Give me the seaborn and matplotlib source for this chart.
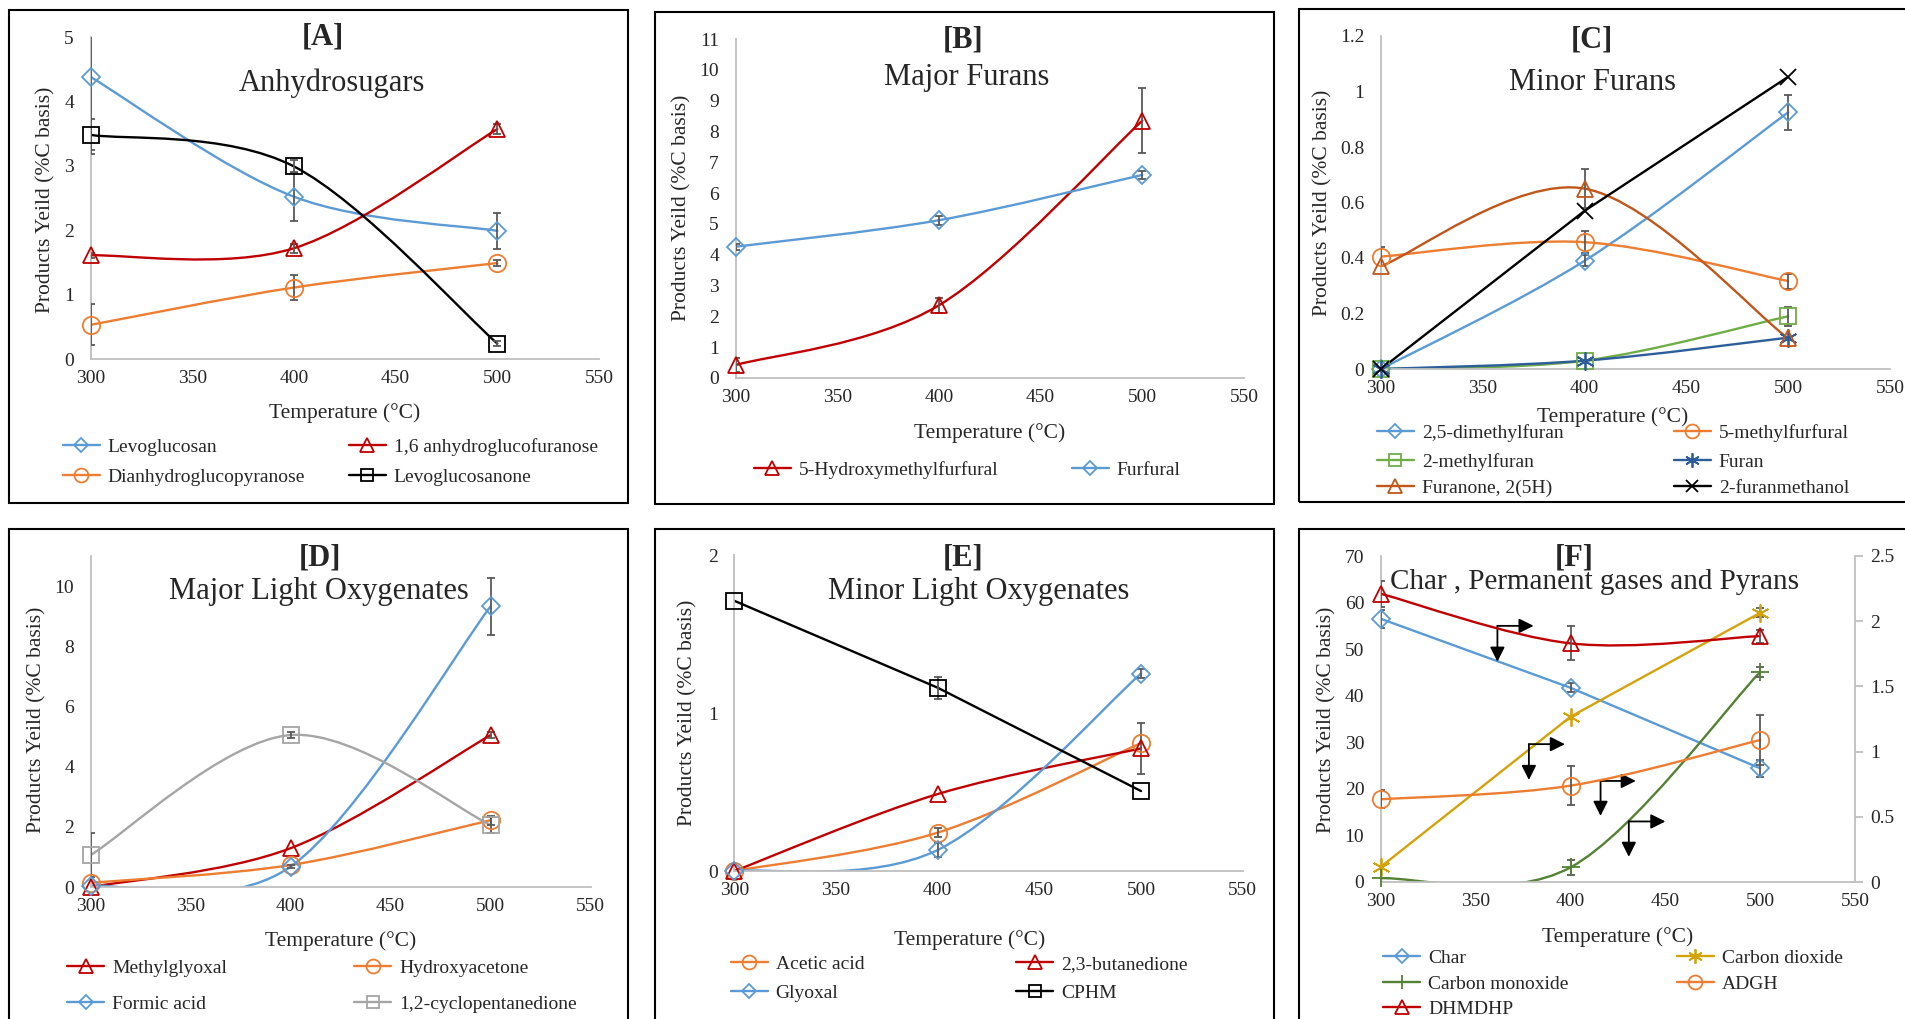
import numpy as np
import pandas as pd
import matplotlib
matplotlib.use("Agg")
import matplotlib.pyplot as plt
import seaborn as sns
from matplotlib.path import Path
from matplotlib.patches import PathPatch, Rectangle
from matplotlib.lines import Line2D
from matplotlib.ticker import FuncFormatter, MultipleLocator

# ---------------- DATA ----------------
temps = [300, 400, 500]
x_ticks = [300, 350, 400, 450, 500, 550]

# [A] Anhydrosugars
levoglucosan = [4.38, 2.52, 1.99]
levoglucosan_err = [1.20, 0.38, 0.28]
anhydroglucofuranose = [1.61, 1.72, 3.57]
anhydroglucofuranose_err = [0.04, 0.07, 0.08]
dianhydroglucopyranose = [0.53, 1.11, 1.49]
dianhydroglucopyranose_err = [0.32, 0.20, 0.04]
levoglucosanone = [3.48, 2.99, 0.24]
levoglucosanone_err = [0.24, 0.10, 0.04]

# [B] Major Furans
hmf = [0.42, 2.36, 8.35]
hmf_err = [0.22, 0.25, 1.05]
furfural = [4.26, 5.12, 6.59]
furfural_err = [0.10, 0.14, 0.12]

# [C] Minor Furans
dimethylfuran = [0.0, 0.39, 0.925]
dimethylfuran_err = [0.0, 0.02, 0.063]
methylfurfural = [0.405, 0.457, 0.317]
methylfurfural_err = [0.035, 0.04, 0.027]
methylfuran = [0.0, 0.03, 0.19]
methylfuran_err = [0.0, 0.0, 0.034]
furan = [0.0, 0.03, 0.113]
furan_err = [0.0, 0.0, 0.0]
furanone = [0.37, 0.65, 0.11]
furanone_err = [0.0, 0.07, 0.0]
furanmethanol = [0.0, 0.57, 1.053]
furanmethanol_err = [0.0, 0.0, 0.0]

# [D] Major Light Oxygenates
methylglyoxal = [0.0, 1.29, 5.05]
methylglyoxal_err = [0.0, 0.0, 0.10]
hydroxyacetone = [0.14, 0.73, 2.22]
hydroxyacetone_err = [0.0, 0.0, 0.15]
formic_acid = [0.04, 0.68, 9.33]
formic_acid_err = [0.0, 0.05, 0.95]
cyclopentanedione = [1.06, 5.05, 2.06]
cyclopentanedione_err = [0.72, 0.10, 0.25]

# [E] Minor Light Oxygenates
acetic_acid = [0.0, 0.243, 0.81]
acetic_acid_err = [0.0, 0.03, 0.0]
butanedione = [0.0, 0.487, 0.776]
butanedione_err = [0.0, 0.0, 0.16]
glyoxal = [0.0, 0.133, 1.25]
glyoxal_err = [0.0, 0.045, 0.03]
cphm = [1.71, 1.16, 0.506]
cphm_err = [0.0, 0.07, 0.0]

# [F] Char, Permanent gases and Pyrans  (Char, CO2, CO: left axis; ADGH, DHMDHP: right axis)
char = [56.5, 41.7, 24.4]
char_err = [2.0, 1.0, 1.8]
carbon_dioxide = [3.3, 35.5, 57.8]
carbon_dioxide_err = [0.0, 0.0, 1.0]
carbon_monoxide = [0.8, 3.15, 45.1]
carbon_monoxide_err = [0.0, 1.6, 1.0]
adgh = [0.634, 0.739, 1.089]
adgh_err = [0.07, 0.15, 0.19]
dhmdhp = [2.21, 1.83, 1.886]
dhmdhp_err = [0.10, 0.13, 0.05]

# ---------------- STYLE ----------------
sns.set_theme(style="white")
plt.rcParams["font.family"] = ["Liberation Serif", "DejaVu Serif"]

BLUE = "#5B9BD5"
RED = "#C00000"
ORANGE = "#ED7D31"
BLACK = "#000000"
GREEN = "#70AD47"
DKBLUE = "#2E5E9A"
BROWN = "#C0561A"
GRAY = "#A5A5A5"
GOLD = "#D4A20A"
DKGREEN = "#548235"
ERRC = "#595959"
SPINE = "#BFBFBF"
ASTER = (6, 2, 0)

LW = 1.7
MEW = 1.3
MS = {"D": 9.0, "o": 12.5, "s": 11.5, "^": 12, "x": 11, ASTER: 13, "+": 13}

TICK_FS = 14
LEG_FS = 14
XLAB_FS = 15.5
YLAB_FS = 15.5
TAG_FS = 22
SUB_FS = 22

W, H = 1906, 1019
fig = plt.figure(figsize=(W / 100, H / 100), dpi=100)
fig.patch.set_facecolor("white")


def fx(x):
    return x / W


def fy(y):
    return 1 - y / H


def add_ax(l, t, r, b):
    return fig.add_axes([l / W, 1 - b / H, (r - l) / W, (b - t) / H])


def smooth_path(x, y):
    pts = np.column_stack([x, y]).astype(float)
    n = len(pts)
    verts = [pts[0]]
    codes = [Path.MOVETO]
    for i in range(n - 1):
        p0 = pts[i - 1] if i > 0 else pts[i]
        p1 = pts[i]
        p2 = pts[i + 1]
        p3 = pts[i + 2] if i + 2 < n else pts[i + 1]
        c1 = p1 + (p2 - p0) / 6.0
        c2 = p2 - (p3 - p1) / 6.0
        verts += [c1, c2, p2]
        codes += [Path.CURVE4] * 3
    return Path(verts, codes)


def fmt(v, pos=None):
    return f"{v:g}"


def style_axes(ax, ymax, ystep):
    ax.set_xlim(300, 550)
    ax.set_ylim(0, ymax)
    ax.set_xticks(x_ticks)
    ax.yaxis.set_major_locator(MultipleLocator(ystep))
    ax.yaxis.set_major_formatter(FuncFormatter(fmt))
    ax.xaxis.set_major_formatter(FuncFormatter(fmt))
    ax.set_facecolor("none")
    for s in ["top", "right"]:
        ax.spines[s].set_visible(False)
    for s in ["left", "bottom"]:
        ax.spines[s].set_color(SPINE)
        ax.spines[s].set_linewidth(1.3)
    ax.tick_params(axis="both", length=0, labelsize=TICK_FS, colors="#262626")
    ax.tick_params(axis="y", pad=12)
    ax.tick_params(axis="x", pad=8)
    ax.grid(False)


def draw_series(ax, y, err, color, marker, smooth):
    df = pd.DataFrame({"T": temps, "v": y})
    if smooth:
        ax.add_patch(PathPatch(smooth_path(temps, y), facecolor="none", edgecolor=color,
                               lw=LW, transform=ax.transData, zorder=2, capstyle="round"))
    else:
        sns.lineplot(data=df, x="T", y="v", ax=ax, color=color, lw=LW, estimator=None,
                     sort=False, zorder=2)
    e = np.array(err, dtype=float)
    m = e > 0
    if m.any():
        ax.errorbar(np.array(temps)[m], np.array(y)[m], yerr=e[m], fmt="none", ecolor=ERRC,
                    elinewidth=1.3, capsize=3, capthick=1.3, zorder=4)
    sns.lineplot(data=df, x="T", y="v", ax=ax, estimator=None, sort=False, linestyle="",
                 marker=marker, markersize=MS[marker], markerfacecolor="none",
                 markeredgecolor=color, markeredgewidth=MEW, color=color, zorder=5,
                 clip_on=False)
    ax.set_xlabel("")
    ax.set_ylabel("")


def handle(color, marker):
    return Line2D([], [], color=color, lw=LW, marker=marker, ms=MS[marker] * 0.8,
                  mfc="none", mec=color, mew=MEW)


def legend_entries(entries):
    for (x, y, lab, color, marker) in entries:
        fig.legend(handles=[handle(color, marker)], labels=[lab], loc="center left",
                   bbox_to_anchor=(fx(x), fy(y)), frameon=False, borderpad=0,
                   borderaxespad=0, handlelength=1.9, handletextpad=0.4,
                   fontsize=LEG_FS)


def panel_text(bx, by, sx, sy, tag, sub, sub_fs=SUB_FS):
    fig.text(fx(bx), fy(by), tag, ha="center", va="center", fontsize=TAG_FS, fontweight="bold")
    fig.text(fx(sx), fy(sy), sub, ha="center", va="center", fontsize=sub_fs)


def axis_labels(xlx, xly, ylx, yly):
    fig.text(fx(xlx), fy(xly), "Temperature (°C)", ha="center", va="center", fontsize=XLAB_FS)
    fig.text(fx(ylx), fy(yly), "Products Yeild (%C basis)", ha="center", va="center",
             rotation=90, fontsize=YLAB_FS)


def box(x1, y1, x2, y2):
    fig.add_artist(Rectangle((fx(x1), fy(y2)), (x2 - x1) / W, (y2 - y1) / H,
                             transform=fig.transFigure, fill=False, ec="black", lw=1.5))


def panel_legend(xs, ys, series):
    pos = [(xs[i % 2], ys[i // 2]) for i in range(len(series))]
    legend_entries([(p[0], p[1], s[0], s[3], s[4]) for p, s in zip(pos, series)])


# ---------------- PANEL A ----------------
box(9, 10, 628, 503)
axA = add_ax(90.6, 37, 599, 359)
style_axes(axA, 5, 1)
A_series = [
    ("Levoglucosan", levoglucosan, levoglucosan_err, BLUE, "D", True),
    ("1,6 anhydroglucofuranose", anhydroglucofuranose, anhydroglucofuranose_err, RED, "^", True),
    ("Dianhydroglucopyranose", dianhydroglucopyranose, dianhydroglucopyranose_err, ORANGE, "o", True),
    ("Levoglucosanone", levoglucosanone, levoglucosanone_err, BLACK, "s", True),
]
for lab, y, e, c, mk, sm in A_series:
    draw_series(axA, y, e, c, mk, sm)
panel_text(323, 37, 331.5, 83, "[A]", "Anhydrosugars")
axis_labels(345, 413, 46, 200)
panel_legend((63, 349), (447, 477), A_series)

# ---------------- PANEL B ----------------
box(655, 12, 1274, 504)
axB = add_ax(735.6, 39, 1244, 378)
style_axes(axB, 11, 1)
B_series = [
    ("5-Hydroxymethylfurfural", hmf, hmf_err, RED, "^", True),
    ("Furfural", furfural, furfural_err, BLUE, "D", True),
]
for lab, y, e, c, mk, sm in B_series:
    draw_series(axB, y, e, c, mk, sm)
panel_text(963, 40, 967, 77, "[B]", "Major Furans")
axis_labels(989.5, 433, 682, 208)
panel_legend((754, 1072), (470,), B_series)

# ---------------- PANEL C ----------------
box(1299, 9, 1930, 502)
axC = add_ax(1381, 36, 1890, 369)
style_axes(axC, 1.2, 0.2)
C_series = [
    ("2,5-dimethylfuran", dimethylfuran, dimethylfuran_err, BLUE, "D", True),
    ("5-methylfurfural", methylfurfural, methylfurfural_err, ORANGE, "o", True),
    ("2-methylfuran", methylfuran, methylfuran_err, GREEN, "s", True),
    ("Furan", furan, furan_err, DKBLUE, ASTER, True),
    ("Furanone, 2(5H)", furanone, furanone_err, BROWN, "^", True),
    ("2-furanmethanol", furanmethanol, furanmethanol_err, BLACK, "x", False),
]
for lab, y, e, c, mk, sm in C_series:
    draw_series(axC, y, e, c, mk, sm)
panel_text(1592, 40, 1592.5, 82, "[C]", "Minor Furans")
axis_labels(1613, 417, 1323, 203)
panel_legend((1377, 1674), (433, 462, 488), C_series)

# ---------------- PANEL D ----------------
box(9, 529, 628, 1030)
axD = add_ax(90.6, 556, 590.7, 887)
style_axes(axD, 11, 2)
D_series = [
    ("Methylglyoxal", methylglyoxal, methylglyoxal_err, RED, "^", True),
    ("Hydroxyacetone", hydroxyacetone, hydroxyacetone_err, ORANGE, "o", True),
    ("Formic acid", formic_acid, formic_acid_err, BLUE, "D", True),
    ("1,2-cyclopentanedione", cyclopentanedione, cyclopentanedione_err, GRAY, "s", True),
]
for lab, y, e, c, mk, sm in D_series:
    draw_series(axD, y, e, c, mk, sm)
panel_text(320.4, 558, 319, 591, "[D]", "Major Light Oxygenates")
axis_labels(341, 941, 36.7, 720)
panel_legend((67.4, 354.3), (968, 1004), D_series)

# ---------------- PANEL E ----------------
box(655, 529, 1274, 1030)
axE = add_ax(734.4, 555, 1242.7, 871)
style_axes(axE, 2, 1)
E_series = [
    ("Acetic acid", acetic_acid, acetic_acid_err, ORANGE, "o", True),
    ("2,3-butanedione", butanedione, butanedione_err, RED, "^", True),
    ("Glyoxal", glyoxal, glyoxal_err, BLUE, "D", True),
    ("CPHM", cphm, cphm_err, BLACK, "s", False),
]
for lab, y, e, c, mk, sm in E_series:
    draw_series(axE, y, e, c, mk, sm)
panel_text(963, 558, 978.7, 592, "[E]", "Minor Light Oxygenates")
axis_labels(969.4, 940, 688, 713)
panel_legend((731, 1016.4), (964, 993), E_series)

# ---------------- PANEL F ----------------
box(1299, 529, 1930, 1030)
axF = add_ax(1381, 556, 1855, 882)
style_axes(axF, 70, 10)
axF2 = axF.twinx()
F_left = [
    ("Char", char, char_err, BLUE, "D", False),
    ("Carbon dioxide", carbon_dioxide, carbon_dioxide_err, GOLD, ASTER, False),
    ("Carbon monoxide", carbon_monoxide, carbon_monoxide_err, DKGREEN, "+", True),
]
F_right = [
    ("ADGH", adgh, adgh_err, ORANGE, "o", True),
    ("DHMDHP", dhmdhp, dhmdhp_err, RED, "^", True),
]
for lab, y, e, c, mk, sm in F_left:
    draw_series(axF, y, e, c, mk, sm)
for lab, y, e, c, mk, sm in F_right:
    draw_series(axF2, y, e, c, mk, sm)
axF.set_xlim(300, 550)
axF2.set_xlim(300, 550)
axF2.set_ylim(0, 2.5)
axF2.yaxis.set_major_locator(MultipleLocator(0.5))
axF2.yaxis.set_major_formatter(FuncFormatter(fmt))
for s in ["top", "left", "bottom"]:
    axF2.spines[s].set_visible(False)
axF2.spines["right"].set_color(SPINE)
axF2.spines["right"].set_linewidth(1.3)
axF2.tick_params(axis="y", length=6, width=1.3, color=SPINE, labelsize=TICK_FS,
                 labelcolor="#262626", pad=5, direction="out")
axF2.grid(False)

# axis-indicator arrows (corner, right tip x, down tip y) in left-axis data units
arrows = [(361.4, 55.0, 380.5, 47.3), (378.0, 29.6, 397.0, 21.9),
          (415.8, 21.7, 434.4, 14.2), (430.7, 13.0, 450.0, 5.4)]
for cx, cy, rx, dy in arrows:
    for tip in [(rx, cy), (cx, dy)]:
        axF.annotate("", xy=tip, xytext=(cx, cy), xycoords="data", textcoords="data",
                     arrowprops=dict(arrowstyle="-|>", color="black", lw=1.3,
                                     mutation_scale=22, shrinkA=0, shrinkB=0),
                     zorder=6, annotation_clip=False)

panel_text(1574, 558, 1595, 582, "[F]", "Char , Permanent gases and Pyrans", sub_fs=21)
axis_labels(1618, 937, 1327, 720)
F_legend_order = [F_left[0], F_left[1], F_left[2], F_right[0], F_right[1]]
panel_legend((1383.5, 1677), (958, 984, 1009), F_legend_order)

fig.savefig("out.png", dpi=100, facecolor="white")
